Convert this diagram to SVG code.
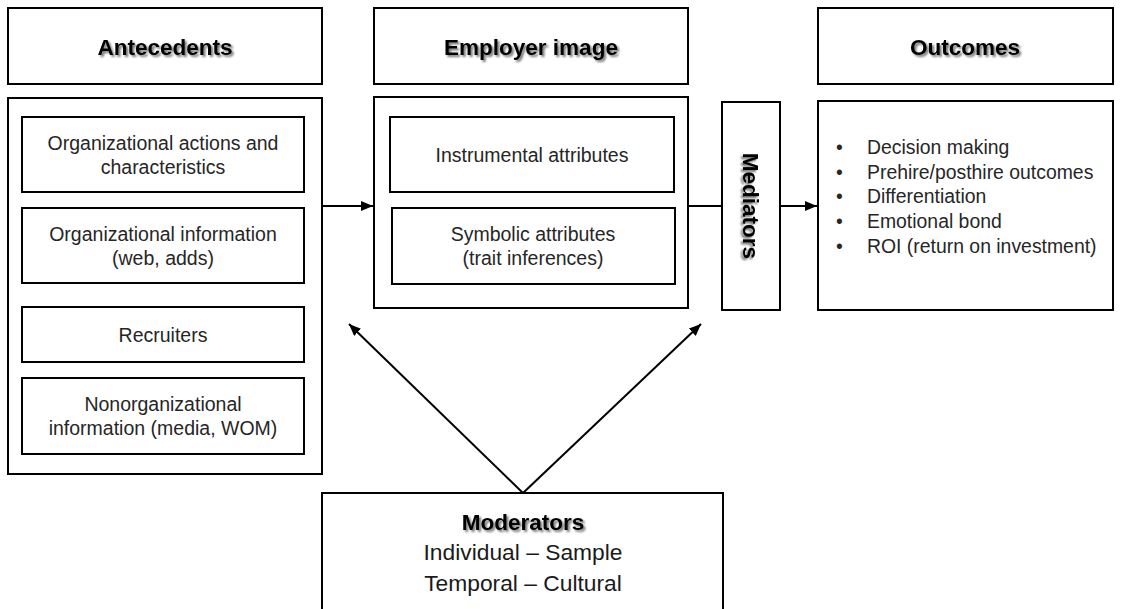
<svg xmlns="http://www.w3.org/2000/svg" width="1123" height="609" viewBox="0 0 1123 609">
  <style>
    .box { fill: #ffffff; stroke: #000000; stroke-width: 2; }
    .head { font-family: "Liberation Sans", Arial, sans-serif; font-weight: bold; font-size: 22.5px; fill: #000000; text-anchor: middle; filter: url(#shadow); }
    .txt { font-family: "Liberation Sans", Arial, sans-serif; font-size: 19.5px; fill: #262626; text-anchor: middle; }
    .list { font-family: "Liberation Sans", Arial, sans-serif; font-size: 19.4px; fill: #262626; }
    .big { font-family: "Liberation Sans", Arial, sans-serif; font-size: 22.8px; fill: #1a1a1a; text-anchor: middle; }
    .link { fill: none; stroke: #000000; stroke-width: 2; }
  </style>
  <defs>
    <filter id="shadow" x="-10%" y="-30%" width="125%" height="170%">
      <feGaussianBlur in="SourceAlpha" stdDeviation="1.2"/>
      <feOffset dx="1.5" dy="1.5" result="blur"/>
      <feComponentTransfer><feFuncA type="linear" slope="0.55"/></feComponentTransfer>
      <feMerge><feMergeNode/><feMergeNode in="SourceGraphic"/></feMerge>
    </filter>
    <marker id="arrow" viewBox="0 0 12 10" refX="12" refY="5" markerWidth="12" markerHeight="10" markerUnits="userSpaceOnUse" orient="auto">
      <path d="M0,0 L12,5 L0,10 Z" fill="#000000"/>
    </marker>
  </defs>
  <rect width="1123" height="609" fill="#ffffff"/>

  <!-- column headers -->
  <g id="antecedents-header">
    <rect class="box" x="8" y="8" width="314" height="76"/>
    <text class="head" x="165" y="55">Antecedents</text>
  </g>
  <g id="employer-header">
    <rect class="box" x="374" y="8" width="314" height="76"/>
    <text class="head" x="531" y="55">Employer image</text>
  </g>
  <g id="outcomes-header">
    <rect class="box" x="818" y="8" width="295" height="76"/>
    <text class="head" x="965" y="55">Outcomes</text>
  </g>

  <!-- antecedents -->
  <g id="antecedents">
    <rect class="box" x="8" y="98" width="314" height="376"/>
    <g id="org-actions">
      <rect class="box" x="22" y="117" width="282" height="75"/>
      <text class="txt" x="163" y="150">Organizational actions and</text>
      <text class="txt" x="163" y="174">characteristics</text>
    </g>
    <g id="org-information">
      <rect class="box" x="22" y="208" width="282" height="75"/>
      <text class="txt" x="163" y="241">Organizational information</text>
      <text class="txt" x="163" y="265">(web, adds)</text>
    </g>
    <g id="recruiters">
      <rect class="box" x="22" y="307" width="282" height="55"/>
      <text class="txt" x="163" y="342">Recruiters</text>
    </g>
    <g id="nonorg-information">
      <rect class="box" x="22" y="378" width="282" height="76"/>
      <text class="txt" x="163" y="411">Nonorganizational</text>
      <text class="txt" x="163" y="435">information (media, WOM)</text>
    </g>
  </g>

  <!-- employer image -->
  <g id="employer-image">
    <rect class="box" x="374" y="97" width="314" height="211"/>
    <g id="instrumental">
      <rect class="box" x="390" y="117" width="284" height="75"/>
      <text class="txt" x="532" y="162">Instrumental attributes</text>
    </g>
    <g id="symbolic">
      <rect class="box" x="392" y="208" width="283" height="76"/>
      <text class="txt" x="533" y="241">Symbolic attributes</text>
      <text class="txt" x="533" y="265">(trait inferences)</text>
    </g>
  </g>

  <!-- mediators -->
  <g id="mediators">
    <rect class="box" x="722" y="102" width="58" height="208"/>
    <text class="head" x="0" y="0" transform="translate(743 206) rotate(90)">Mediators</text>
  </g>

  <!-- outcomes -->
  <g id="outcomes">
    <rect class="box" x="818" y="101" width="295" height="209"/>
    <g class="list">
      <text x="836" y="154">•</text><text x="867" y="154">Decision making</text>
      <text x="836" y="179">•</text><text x="867" y="179">Prehire/posthire outcomes</text>
      <text x="836" y="203">•</text><text x="867" y="203">Differentiation</text>
      <text x="836" y="228">•</text><text x="867" y="228">Emotional bond</text>
      <text x="836" y="253">•</text><text x="867" y="253">ROI (return on investment)</text>
    </g>
  </g>

  <!-- moderators -->
  <g id="moderators">
    <rect class="box" x="322" y="493" width="401" height="130"/>
    <text class="head" x="523" y="530">Moderators</text>
    <text class="big" x="523" y="560">Individual – Sample</text>
    <text class="big" x="523" y="591">Temporal – Cultural</text>
  </g>

  <!-- connectors -->
  <g id="connectors">
    <line class="link" x1="322" y1="206" x2="373" y2="206" marker-end="url(#arrow)"/>
    <line class="link" x1="688" y1="206" x2="722" y2="206"/>
    <line class="link" x1="780" y1="206" x2="817" y2="206" marker-end="url(#arrow)"/>
    <line class="link" x1="523" y1="493" x2="349" y2="324" marker-end="url(#arrow)"/>
    <line class="link" x1="523" y1="493" x2="701" y2="324" marker-end="url(#arrow)"/>
  </g>
</svg>
